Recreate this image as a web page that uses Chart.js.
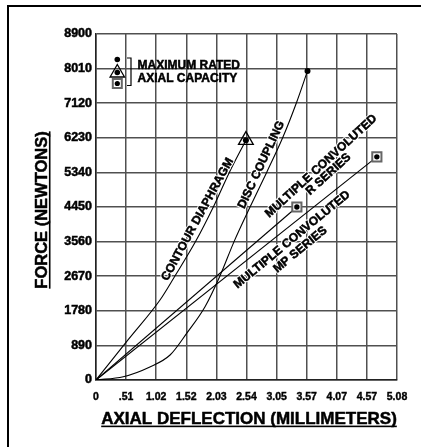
<!DOCTYPE html>
<html>
<head>
<meta charset="utf-8">
<script src="https://cdn.jsdelivr.net/npm/chart.js@4.4.0/dist/chart.umd.min.js"></script>
<style>
  html, body { margin: 0; padding: 0; background: #fff; }
  #wrap { position: relative; width: 421px; height: 447px; }
</style>
</head>
<body>
<div id="wrap"><canvas id="forceChart" width="421" height="447"></canvas></div>
<script>
// axis ticks
const xTickValues = [0, 0.508, 1.016, 1.524, 2.032, 2.54, 3.048, 3.556, 4.064, 4.572, 5.08];
const xTickLabels = ["0", ".51", "1.02", "1.52", "2.03", "2.54", "3.05", "3.57", "4.07", "4.57", "5.08"];
const yTickValues = [0, 890, 1780, 2670, 3560, 4450, 5340, 6230, 7120, 8010, 8900];

// curves (deflection mm, force N)
const contourX = [0, 0.55, 1.08, 1.33, 1.68, 1.98, 2.25, 2.53];
const contourY = [0, 1050, 2058, 2670, 3560, 4450, 5340, 6170];

const discX = [0, 0.46, 0.90, 1.25, 1.53, 1.84, 2.09, 2.33, 2.60, 2.88, 3.15, 3.38, 3.57];
const discY = [0, 85, 330, 643, 1200, 1885, 2670, 3560, 4450, 5340, 6230, 7120, 7950];

const rSeriesX = [0, 3.39];
const rSeriesY = [0, 4450];

const mpSeriesX = [0, 4.74];
const mpSeriesY = [0, 5740];

const FONT = '"Liberation Sans", Arial, Helvetica, sans-serif';

function pts(xs, ys) {
  return xs.map((x, i) => ({ x: x, y: ys[i] }));
}
function last(xs, ys) {
  return { x: xs[xs.length - 1], y: ys[ys.length - 1] };
}

// draw centered text lines rotated around (cx, cy)
function drawText(ctx, lines, cx, cy, angle, size, lineH, underline, halo) {
  ctx.save();
  ctx.translate(cx, cy);
  ctx.rotate(angle * Math.PI / 180);
  ctx.font = "bold " + size + "px " + FONT;
  ctx.textAlign = "center";
  ctx.textBaseline = "alphabetic";
  ctx.lineJoin = "round";
  const cap = size * 0.716;
  const start = -(lines.length - 1) * lineH / 2;
  lines.forEach((t, i) => {
    const y = start + i * lineH + cap / 2;
    if (halo) {
      ctx.strokeStyle = "#fff";
      ctx.lineWidth = 2.5;
      ctx.strokeText(t, 0, y);
    }
    ctx.fillStyle = "#000";
    ctx.fillText(t, 0, y);
    ctx.strokeStyle = "#000";
    ctx.lineWidth = 0.5;
    ctx.strokeText(t, 0, y);
    if (underline) {
      const w = ctx.measureText(t).width;
      ctx.fillRect(-w / 2, y + 1.5, w, 1.6);
    }
  });
  ctx.restore();
}

const curveLabels = [
  { lines: ["CONTOUR DIAPHRAGM"], x: 1.70, y: 4141, angle: -61.4, lh: 12 },
  { lines: ["DISC COUPLING"], x: 2.776, y: 5548, angle: -65, lh: 12 },
  { lines: ["MULTIPLE CONVOLUTED", "R SERIES"], x: 3.851, y: 5415, angle: -42.4, lh: 11 },
  { lines: ["MULTIPLE CONVOLUTED", "MP SERIES"], x: 3.367, y: 3501, angle: -39.5, lh: 13 }
];

const annotations = {
  id: "annotations",
  beforeDraw(chart) {
    const ctx = chart.ctx;
    ctx.save();
    ctx.fillStyle = "#000";
    ctx.fillRect(7, 5, 414, 2);
    ctx.fillRect(7, 5, 2, 442);
    ctx.restore();
  },
  afterDatasetsDraw(chart) {
    const ctx = chart.ctx;
    const xs = chart.scales.x, ys = chart.scales.y;

    curveLabels.forEach(l => {
      drawText(ctx, l.lines, xs.getPixelForValue(l.x), ys.getPixelForValue(l.y), l.angle, 12, l.lh, false, true);
    });

    // axis titles
    drawText(ctx, ["FORCE (NEWTONS)"], 41.5, 210, -90, 16.5, 0, true, false);
    drawText(ctx, ["AXIAL DEFLECTION (MILLIMETERS)"], 249, 418, 0, 17, 0, true, false);

    // legend block
    ctx.save();
    ctx.fillStyle = "#000";
    ctx.strokeStyle = "#000";
    ctx.beginPath(); ctx.arc(117.3, 59.5, 2.8, 0, Math.PI * 2); ctx.fill();
    ctx.lineWidth = 1.3;
    ctx.beginPath();
    ctx.moveTo(117.3, 64.5); ctx.lineTo(124.5, 77); ctx.lineTo(110.1, 77); ctx.closePath();
    ctx.stroke();
    ctx.beginPath(); ctx.arc(117.3, 72.5, 2.8, 0, Math.PI * 2); ctx.fill();
    ctx.fillStyle = "#fff";
    ctx.strokeStyle = "#666";
    ctx.lineWidth = 2;
    ctx.fillRect(112.8, 79, 9, 9);
    ctx.strokeRect(112.8, 79, 9, 9);
    ctx.fillStyle = "#000";
    ctx.beginPath(); ctx.arc(117.3, 83.5, 2.6, 0, Math.PI * 2); ctx.fill();
    ctx.strokeStyle = "#000";
    ctx.lineWidth = 1.2;
    ctx.beginPath();
    ctx.moveTo(127, 58); ctx.lineTo(131, 58); ctx.lineTo(131, 85.5); ctx.lineTo(127, 85.5);
    ctx.stroke();
    ctx.restore();
    ctx.save();
    ctx.font = "bold 12px " + FONT;
    ctx.fillStyle = "#000";
    ctx.strokeStyle = "#000";
    ctx.lineWidth = 0.5;
    ctx.textAlign = "left";
    ctx.textBaseline = "alphabetic";
    ctx.fillText("MAXIMUM RATED", 137.5, 68.5);
    ctx.strokeText("MAXIMUM RATED", 137.5, 68.5);
    ctx.fillText("AXIAL CAPACITY", 137.5, 81.5);
    ctx.strokeText("AXIAL CAPACITY", 137.5, 81.5);
    ctx.restore();
  }
};

const lineStyle = {
  showLine: true,
  borderColor: "#000",
  borderWidth: 1.1,
  pointRadius: 0,
  fill: false
};

new Chart(document.getElementById("forceChart"), {
  type: "scatter",
  data: {
    datasets: [
      {
        label: "dots",
        data: [last(contourX, contourY), last(discX, discY), last(rSeriesX, rSeriesY), last(mpSeriesX, mpSeriesY)],
        pointStyle: "circle",
        pointRadius: [3, 3, 2.7, 2.7],
        backgroundColor: "#000",
        borderWidth: 0
      },
      {
        label: "squares",
        data: [last(rSeriesX, rSeriesY), last(mpSeriesX, mpSeriesY)],
        pointStyle: "rect",
        pointRadius: 6.5,
        backgroundColor: "#fff",
        borderColor: "#666",
        borderWidth: 2
      },
      {
        label: "triangle",
        data: [last(contourX, contourY)],
        pointStyle: "triangle",
        pointRadius: 8.5,
        backgroundColor: "rgba(0,0,0,0)",
        borderColor: "#000",
        borderWidth: 1.3
      },
      Object.assign({ label: "Contour Diaphragm", data: pts(contourX, contourY), cubicInterpolationMode: "monotone" }, lineStyle),
      Object.assign({ label: "Disc Coupling", data: pts(discX, discY), cubicInterpolationMode: "monotone" }, lineStyle),
      Object.assign({ label: "Multiple Convoluted R Series", data: pts(rSeriesX, rSeriesY) }, lineStyle),
      Object.assign({ label: "Multiple Convoluted MP Series", data: pts(mpSeriesX, mpSeriesY) }, lineStyle)
    ]
  },
  options: {
    responsive: false,
    animation: false,
    events: [],
    layout: { padding: { top: 34, right: 24, left: 0, bottom: 0 } },
    plugins: { legend: { display: false }, tooltip: { enabled: false } },
    scales: {
      x: {
        type: "linear",
        min: 0,
        max: 5.08,
        afterBuildTicks: s => { s.ticks = xTickValues.map(v => ({ value: v })); },
        afterFit: s => { s.height = 67; },
        ticks: {
          autoSkip: false,
          maxRotation: 0,
          padding: 11,
          color: "#000",
          textStrokeColor: "#000",
          textStrokeWidth: 0.4,
          font: { family: FONT, size: 10.5, weight: "bold" },
          callback: (v, i) => xTickLabels[i]
        },
        grid: { color: "#505050", lineWidth: 1.5, drawTicks: false },
        border: { color: "#222", width: 1.5 }
      },
      y: {
        type: "linear",
        min: 0,
        max: 8900,
        afterBuildTicks: s => { s.ticks = yTickValues.map(v => ({ value: v })); },
        afterFit: s => { s.width = 96; },
        ticks: {
          padding: 4,
          color: "#000",
          textStrokeColor: "#000",
          textStrokeWidth: 0.5,
          font: { family: FONT, size: 12.5, weight: "bold" },
          callback: v => String(v)
        },
        grid: { color: "#505050", lineWidth: 1.5, drawTicks: false },
        border: { color: "#222", width: 1.5 }
      }
    }
  },
  plugins: [annotations]
});
</script>
</body>
</html>
